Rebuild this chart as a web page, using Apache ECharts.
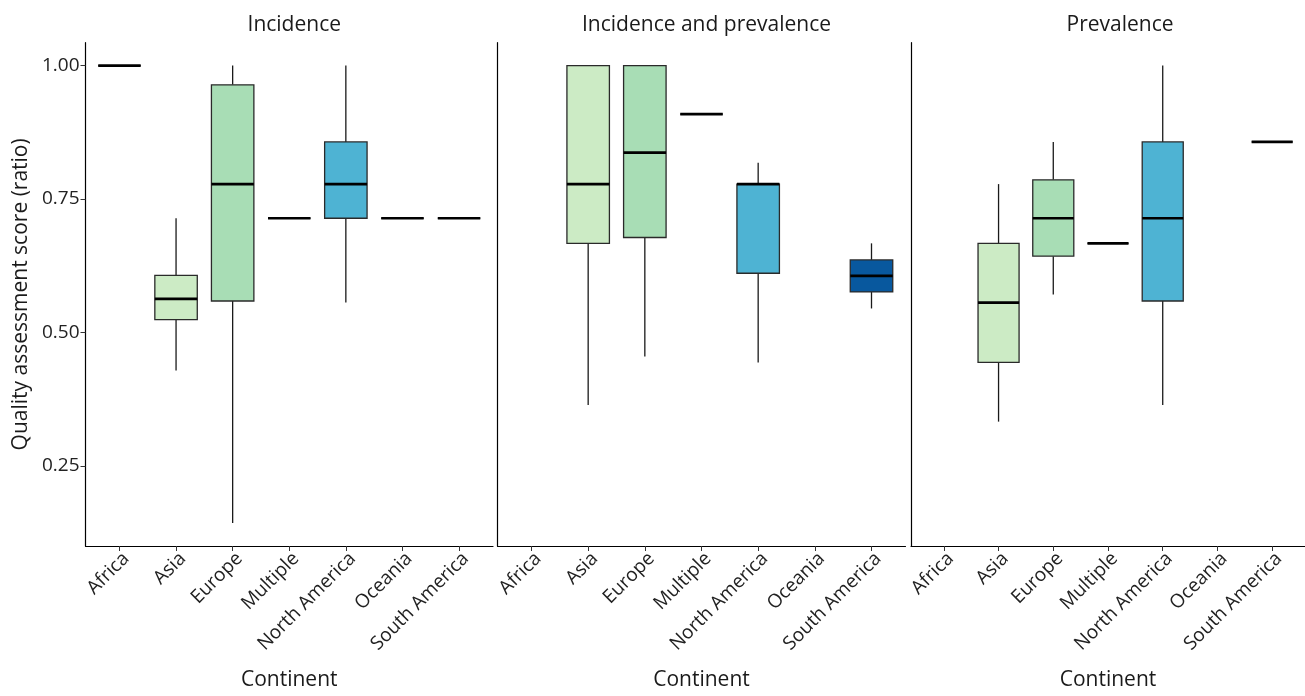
<!DOCTYPE html>
<html>
<head>
<meta charset="utf-8">
<script src="https://cdn.jsdelivr.net/npm/echarts@6/dist/echarts.min.js"></script>
<style>
  html, body { margin: 0; padding: 0; background: #fff; }
  #chart { width: 1305px; height: 696px; }
</style>
</head>
<body>
<div id="chart"></div>
<script>
// ---- Data ----
const categories = ['Africa', 'Asia', 'Europe', 'Multiple', 'North America', 'Oceania', 'South America'];
const panelTitles = ['Incidence', 'Incidence and prevalence', 'Prevalence'];
const yTicks = [0.25, 0.50, 0.75, 1.00];
const fillColors = ['#f0f9e8', '#ccebc5', '#a8ddb5', '#7bccc4', '#4eb3d3', '#2b8cbe', '#08589e'];

// Incidence
const inc_low  = [1.000, 0.429, 0.143, 0.714, 0.556, 0.714, 0.714];
const inc_q1   = [1.000, 0.524, 0.559, 0.714, 0.714, 0.714, 0.714];
const inc_med  = [1.000, 0.563, 0.778, 0.714, 0.778, 0.714, 0.714];
const inc_q3   = [1.000, 0.607, 0.964, 0.714, 0.857, 0.714, 0.714];
const inc_high = [1.000, 0.714, 1.000, 0.714, 1.000, 0.714, 0.714];

// Incidence and prevalence
const ip_low  = [null, 0.364, 0.455, 0.909, 0.444, null, 0.545];
const ip_q1   = [null, 0.667, 0.678, 0.909, 0.611, null, 0.576];
const ip_med  = [null, 0.778, 0.837, 0.909, 0.778, null, 0.606];
const ip_q3   = [null, 1.000, 1.000, 0.909, 0.778, null, 0.636];
const ip_high = [null, 1.000, 1.000, 0.909, 0.818, null, 0.667];

// Prevalence
const prev_low  = [null, 0.333, 0.571, 0.667, 0.364, null, 0.857];
const prev_q1   = [null, 0.444, 0.643, 0.667, 0.559, null, 0.857];
const prev_med  = [null, 0.556, 0.714, 0.667, 0.714, null, 0.857];
const prev_q3   = [null, 0.667, 0.786, 0.667, 0.857, null, 0.857];
const prev_high = [null, 0.778, 0.857, 0.667, 1.000, null, 0.857];

const panels = [
  [inc_low, inc_q1, inc_med, inc_q3, inc_high],
  [ip_low, ip_q1, ip_med, ip_q3, ip_high],
  [prev_low, prev_q1, prev_med, prev_q3, prev_high]
];

// ---- Layout ----
const FONT = '"Open Sans", "DejaVu Sans", sans-serif';
const gridTop = 42.7, gridHeight = 509;
const gridLefts = [85.5, 497.5, 911];
const gridWidths = [407.5, 408, 408];
const tickPos = categories.map((c, i) => i + 1);

function buildData(p) {
  const out = [];
  for (let i = 0; i < categories.length; i++) {
    if (p[2][i] == null) continue;
    out.push([i + 1, p[0][i], p[1][i], p[2][i], p[3][i], p[4][i], i]);
  }
  return out;
}

function renderBox(params, api) {
  const x = api.value(0);
  const low = api.value(1), q1 = api.value(2), med = api.value(3), q3 = api.value(4), high = api.value(5);
  const ci = api.value(6);
  const w = api.size([0.75, 0])[0];
  const pLow = api.coord([x, low]);
  const pQ1 = api.coord([x, q1]);
  const pMed = api.coord([x, med]);
  const pQ3 = api.coord([x, q3]);
  const pHigh = api.coord([x, high]);
  const cx = pMed[0];
  const stroke = '#1a1a1a';
  const children = [];
  if (pHigh[1] < pQ3[1]) {
    children.push({ type: 'line', shape: { x1: cx, y1: pHigh[1], x2: cx, y2: pQ3[1] },
      style: { stroke: stroke, lineWidth: 1.3 } });
  }
  if (pLow[1] > pQ1[1]) {
    children.push({ type: 'line', shape: { x1: cx, y1: pQ1[1], x2: cx, y2: pLow[1] },
      style: { stroke: stroke, lineWidth: 1.3 } });
  }
  children.push({ type: 'rect',
    shape: { x: cx - w / 2, y: pQ3[1], width: w, height: pQ1[1] - pQ3[1] },
    style: { fill: fillColors[ci], stroke: '#2a2a2a', lineWidth: 1.3 } });
  children.push({ type: 'line', shape: { x1: cx - w / 2, y1: pMed[1], x2: cx + w / 2, y2: pMed[1] },
    style: { stroke: '#000', lineWidth: 2.7 } });
  return { type: 'group', children: children };
}

const grids = [], xAxes = [], yAxes = [], series = [], titles = [];
for (let k = 0; k < 3; k++) {
  grids.push({ left: gridLefts[k], top: gridTop, width: gridWidths[k], height: gridHeight, containLabel: false });
  titles.push({
    text: panelTitles[k],
    left: gridLefts[k] + gridWidths[k] / 2,
    top: 10,
    textAlign: 'center',
    textStyle: { fontFamily: FONT, fontSize: 21, fontWeight: 'normal', color: '#1a1a1a' }
  });
  xAxes.push({
    type: 'value', gridIndex: k, min: 0.4, max: 7.6,
    axisLine: { show: true, onZero: false, lineStyle: { color: '#000', width: 1.2 } },
    axisTick: { show: true, customValues: tickPos, length: 5, lineStyle: { color: '#333', width: 1 } },
    axisLabel: {
      customValues: tickPos, rotate: 45, margin: 3,
      align: 'right', verticalAlign: 'top',
      fontFamily: FONT, fontSize: 19, color: '#222',
      formatter: function (v) { return categories[Math.round(v) - 1] || ''; }
    },
    splitLine: { show: false },
    name: 'Continent', nameLocation: 'middle', nameGap: 124,
    nameTextStyle: { fontFamily: FONT, fontSize: 21, color: '#1a1a1a' }
  });
  const y = {
    type: 'value', gridIndex: k, min: 0.1, max: 1.0429,
    axisLine: { show: true, onZero: false, lineStyle: { color: '#000', width: 1.2 } },
    splitLine: { show: false }
  };
  if (k === 0) {
    y.axisTick = { show: true, customValues: yTicks, length: 5, lineStyle: { color: '#333', width: 1 } };
    y.axisLabel = { customValues: yTicks, margin: 6, fontFamily: FONT, fontSize: 19, color: '#222',
      formatter: function (v) { return v.toFixed(2); } };
    y.name = 'Quality assessment score (ratio)';
    y.nameLocation = 'middle';
    y.nameGap = 54;
    y.nameTextStyle = { fontFamily: FONT, fontSize: 21, color: '#1a1a1a' };
  } else {
    y.axisTick = { show: false };
    y.axisLabel = { show: false };
  }
  yAxes.push(y);
  series.push({
    type: 'custom', xAxisIndex: k, yAxisIndex: k,
    renderItem: renderBox, clip: false,
    encode: { x: 0, y: [1, 2, 3, 4, 5] },
    data: buildData(panels[k]),
    silent: true
  });
}

const chart = echarts.init(document.getElementById('chart'), null, { renderer: 'canvas' });
chart.setOption({
  animation: false,
  backgroundColor: '#fff',
  title: titles,
  grid: grids,
  xAxis: xAxes,
  yAxis: yAxes,
  series: series
});
</script>
</body>
</html>
